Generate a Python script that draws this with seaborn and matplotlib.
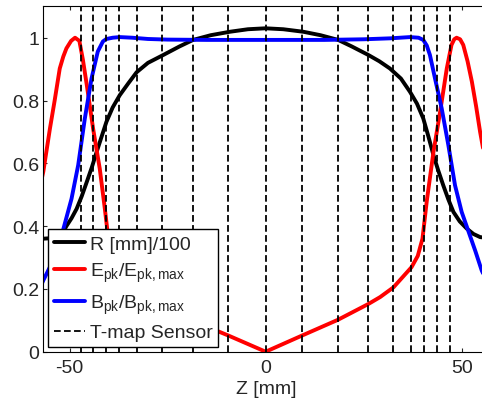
import numpy as np
import pandas as pd
import matplotlib
matplotlib.use('Agg')
import matplotlib.pyplot as plt
import seaborn as sns

# Cavity radius profile R/100
z_r = [-58, -56.7, -54, -52.5, -51.6, -50.8, -49.5, -48.2, -46.9, -45.6, -44.3, -43.1, -41.8, -40.6,
       -39, -37.2, -35, -32.9, -30, -26.1, -22, -18.5, -14, -9.1, -4.5, 0, 4.5, 9.6, 14, 18.5, 22,
       26.2, 29, 31.7, 34.5, 36.8, 38.6, 40.2, 41.5, 42.8, 44, 45.3, 46.6, 47.9, 49.5, 51.3, 53,
       54.7, 58]
r_val = [0.36, 0.36, 0.362, 0.37, 0.382, 0.40, 0.425, 0.455, 0.495, 0.541, 0.588, 0.636, 0.686, 0.732,
         0.778, 0.817, 0.855, 0.89, 0.92, 0.945, 0.972, 0.993, 1.008, 1.019, 1.027, 1.03, 1.027, 1.019,
         1.008, 0.993, 0.972, 0.945, 0.925, 0.902, 0.87, 0.828, 0.79, 0.743, 0.686, 0.626, 0.578, 0.53,
         0.485, 0.445, 0.415, 0.392, 0.375, 0.365, 0.36]

# Peak surface electric field, normalised
z_e = [-58, -56.7, -55.0, -53.8, -52.5, -51.6, -50.8, -49.6, -48.6, -47.5, -46.6, -45.6, -44.0, -42.3,
       -41.0, -40.2, -39.4, -37.2, -32.6, -26.2, -18.4, -12.5, -9.4, 0, 9.2, 18.5, 26.2, 29.2, 32.6,
       37.2, 38.8, 40.0, 41.1, 42.8, 44.5, 46.2, 47.4, 48.1, 48.7, 49.6, 50.4, 51.5, 52.6, 53.7,
       54.7, 56, 58]
e_val = [0.50, 0.573, 0.711, 0.80, 0.902, 0.94, 0.966, 0.99, 1.0, 0.99, 0.93, 0.849, 0.711, 0.583,
         0.455, 0.37, 0.32, 0.27, 0.205, 0.152, 0.104, 0.067, 0.051, 0.0, 0.051, 0.102, 0.152, 0.174,
         0.205, 0.269, 0.305, 0.36, 0.48, 0.636, 0.764, 0.902, 0.977, 0.995, 1.0, 0.995, 0.977, 0.925,
         0.86, 0.78, 0.70, 0.61, 0.50]

# Peak surface magnetic field, normalised
z_b = [-58, -56.7, -55, -53.1, -51.6, -49.5, -47.8, -46.1, -44.4, -42.8, -41.5, -40.6, -39, -37.2,
       -34, -30, -25, -15, 0, 15, 25, 31.7, 36.8, 39, 40.2, 41.1, 41.9, 43.2, 44.9, 46.6, 48.3, 50.0,
       52.1, 53.5, 55.1, 58]
b_val = [0.19, 0.227, 0.27, 0.32, 0.39, 0.487, 0.594, 0.743, 0.870, 0.956, 0.988, 0.996, 1.0, 1.002,
         1.0, 0.996, 0.994, 0.993, 0.993, 0.993, 0.995, 0.998, 1.002, 1.0, 0.993, 0.975, 0.945, 0.87,
         0.775, 0.658, 0.53, 0.445, 0.37, 0.32, 0.259, 0.18]

# T-map sensor positions [mm]
sensors = [-47.2, -44.0, -40.6, -37.3, -32.7, -26.3, -18.5, -9.5, 0,
           9.4, 18.4, 26.2, 32.6, 37.2, 40.5, 43.8, 47.1]

sns.set_style('ticks')
plt.rcParams['font.family'] = ['Liberation Sans', 'DejaVu Sans']
plt.rcParams['mathtext.fontset'] = 'custom'
plt.rcParams['mathtext.rm'] = 'Liberation Sans'
plt.rcParams['mathtext.it'] = 'Liberation Sans'
plt.rcParams['font.size'] = 14

fig = plt.figure(figsize=(4.82, 4.02), dpi=100)
ax = fig.add_axes([0.0898, 0.1226, 0.925, 0.8592])

df_r = pd.DataFrame({'z': z_r, 'v': r_val})
df_e = pd.DataFrame({'z': z_e, 'v': e_val})
df_b = pd.DataFrame({'z': z_b, 'v': b_val})

sns.lineplot(data=df_r, x='z', y='v', ax=ax, color='black', lw=2.8, label='R [mm]/100',
             estimator=None, sort=False, zorder=2)
sns.lineplot(data=df_e, x='z', y='v', ax=ax, color='#ff0000', lw=2.8,
             label=r'E$_{\mathrm{pk}}$/E$_{\mathrm{pk,max}}$', estimator=None, sort=False, zorder=2)
sns.lineplot(data=df_b, x='z', y='v', ax=ax, color='#0000ff', lw=2.8,
             label=r'B$_{\mathrm{pk}}$/B$_{\mathrm{pk,max}}$', estimator=None, sort=False, zorder=2)
for i, s in enumerate(sensors):
    ax.axvline(s, color='black', lw=1.3, ls=(0, (3.7, 1.85)), zorder=3,
               label='T-map Sensor' if i == 0 else None)

ax.set_xlim(-56.7, 57)
ax.set_ylim(0, 1.1)
ax.set_xticks([-50, 0, 50])
ax.set_xticklabels(['-50', '0', '50'])
ax.set_yticks([0, 0.2, 0.4, 0.6, 0.8, 1])
ax.set_yticklabels(['0', '0.2', '0.4', '0.6', '0.8', '1'])
ax.tick_params(direction='in', top=True, right=True, length=3, width=0.8, labelsize=14, pad=3)
ax.tick_params(axis='x', pad=5)
for sp in ax.spines.values():
    sp.set_linewidth(0.8)
    sp.set_color('black')
ax.set_xlabel('Z [mm]', fontsize=14, labelpad=3)
ax.set_ylabel('')

leg = ax.legend(loc='lower left', bbox_to_anchor=(0.01, 0.013), borderaxespad=0, fancybox=False,
                edgecolor='black', framealpha=1, fontsize=14, handlelength=1.6, handletextpad=0.25,
                labelspacing=0.42, borderpad=0.3)
leg.get_frame().set_linewidth(1.0)

fig.savefig('out.png', dpi=100)
